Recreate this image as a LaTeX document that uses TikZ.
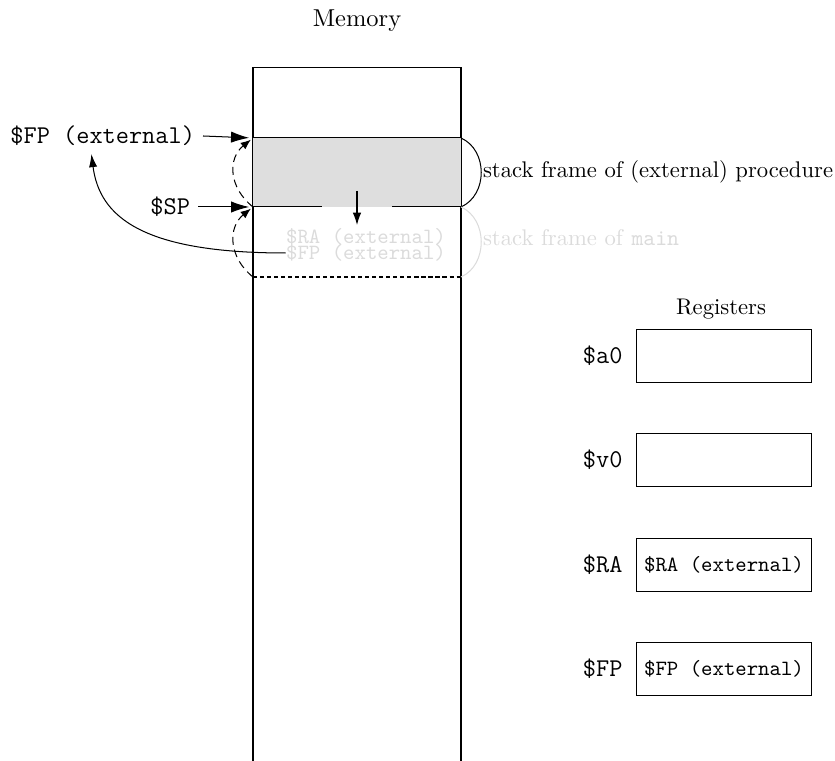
\documentclass[tikz,border=0pt]{standalone}
\usepackage{fontspec}
\usetikzlibrary{arrows.meta,positioning}
\tikzset{
  bigtt/.style={font=\fontsize{11.3}{13}\selectfont\ttfamily},
  smalltt/.style={font=\fontsize{9.6}{11}\selectfont\ttfamily},
  faded/.style={black!14},
  regbox/.style={draw, inner sep=1pt, minimum width=77.3pt, minimum height=23pt, smalltt},
  ptr/.style={-{Latex[length=8pt,width=5pt]}, shorten >=1.7pt},
  linkarc/.style={dash pattern=on 3.5pt off 2.2pt, -{Latex[length=4.5pt,width=3.6pt]}, shorten >=1.2pt},
}
\begin{document}
\begin{tikzpicture}[x=0.4417pt,y=-0.4417pt,line width=0.45pt]
  \useasboundingbox (0,0) rectangle (835,761);
  % memory column
  \node[font=\fontsize{10.8}{13}\selectfont] (memtitle) at (357,21) {Memory};
  \draw (253,761) -- (253,68) -- (461,68) -- (461,761);
  \coordinate (fptop) at (253,138);
  \coordinate (sptop) at (253,207);
  \coordinate (mainbot) at (253,277);
  \coordinate (fptopR) at (461,138);
  \coordinate (sptopR) at (461,207);
  \coordinate (mainbotR) at (461,277);
  % stack frame of the (external) procedure
  \fill[black!13] (fptop) rectangle (sptopR);
  \draw (fptop) -- (fptopR);
  \draw (sptop) -- (322,207) (392,207) -- (sptopR);
  \draw[dash pattern=on 1.8pt off 1.3pt] (mainbot) -- (mainbotR);
  % growing direction
  \coordinate (growfrom) at (357,191);
  \coordinate (growto) at (357,225);
  \draw[-{Latex[length=5.5pt,width=3.8pt]}] (growfrom) -- (growto);
  % saved values in the frame of main
  \node[faded, smalltt, inner sep=0pt] (ramem) at (366,237) {\$RA (external)};
  \node[faded, smalltt, inner sep=0pt] (fpmem) at (366,253) {\$FP (external)};
  % frame braces
  \draw (fptopR) .. controls +(27,12) and +(27,-12) .. (sptopR);
  \draw[faded] (sptopR) .. controls +(27,12) and +(27,-12) .. (mainbotR);
  \node[anchor=west] (procnote) at (475,172) {stack frame of (external) procedure};
  \node[anchor=west, faded] (mainnote) at (475,238) {stack frame of \texttt{main}};
  % pointers
  \node[bigtt, anchor=east] (fpext) at (203,136) {\$FP (external)};
  \node[bigtt, anchor=east] (spext) at (198,207) {\$SP};
  \draw[ptr] (fpext.east) -- (fptop);
  \draw[ptr] (spext.east) -- (sptop);
  \draw[linkarc] (mainbot) .. controls +(-25,-20) and +(-25,20) .. (sptop);
  \draw[linkarc] (sptop) .. controls +(-25,-20) and +(-25,20) .. (fptop);
  \draw[-{Latex[length=5.8pt,width=3.6pt]}] (fpmem.west) .. controls +(-145,0) and +(8,62) .. ([xshift=-5pt]fpext.south);
  % registers
  \node (regtitle) at (721,309) {Registers};
  \node[regbox] (a0box) at (724,356) {};
  \node[regbox] (v0box) at (724,460) {};
  \node[regbox] (rabox) at (724,565) {\$RA (external)};
  \node[regbox] (fpbox) at (724,669) {\$FP (external)};
  \node[bigtt, left=2.4pt of a0box] (a0lbl) {\$a0};
  \node[bigtt, left=2.4pt of v0box] (v0lbl) {\$v0};
  \node[bigtt, left=2.4pt of rabox] (ralbl) {\$RA};
  \node[bigtt, left=2.4pt of fpbox] (fplbl) {\$FP};
\end{tikzpicture}
\end{document}
